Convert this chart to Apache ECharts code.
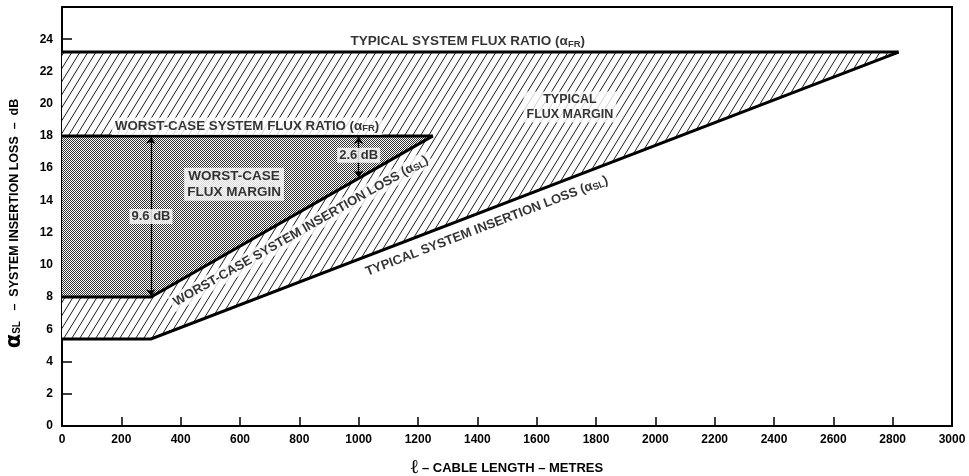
<!DOCTYPE html>
<html>
<head>
<meta charset="utf-8">
<script src="https://cdn.jsdelivr.net/npm/echarts@6/dist/echarts.min.js"></script>
<style>html,body{margin:0;padding:0;background:#fff}#c{width:969px;height:476px}</style>
</head>
<body>
<div id="c"></div>
<script>
// ---- data ----
const typicalFluxX = [0, 2820];
const typicalFluxY = [23.2, 23.2];
const typicalLossX = [0, 300, 2820];
const typicalLossY = [5.4, 5.4, 23.2];
const worstFluxX = [0, 1250];
const worstFluxY = [18, 18];
const worstLossX = [0, 300, 1250];
const worstLossY = [8.0, 8.0, 18.0];
const arrowX = [300, 1000];
const arrowFromY = [8.0, 15.37];
const arrowToY = [18, 18];
const arrowText = ['9.6 dB', '2.6 dB'];
const yTicks = [0, 2, 4, 6, 8, 10, 12, 14, 16, 18, 20, 22, 24];
const xTicks = [0, 200, 400, 600, 800, 1000, 1200, 1400, 1600, 1800, 2000, 2200, 2400, 2600, 2800, 3000];

// ---- helpers ----
const pts = (xs, ys) => xs.map((x, i) => [x, ys[i]]);
const FONT = '"Liberation Sans", Arial, Helvetica, sans-serif';

function hatchPattern() {
  const w = 8, h = 13;
  const c = document.createElement('canvas');
  c.width = w; c.height = h;
  const g = c.getContext('2d');
  g.fillStyle = '#fff'; g.fillRect(0, 0, w, h);
  g.strokeStyle = '#000'; g.lineWidth = 0.9;
  for (const dx of [-w, 0, w]) {
    g.beginPath(); g.moveTo(dx, h); g.lineTo(dx + w, 0); g.stroke();
  }
  return { image: c, repeat: 'repeat' };
}
function stipplePattern() {
  const c = document.createElement('canvas');
  c.width = 2; c.height = 2;
  const g = c.getContext('2d');
  g.fillStyle = '#fff'; g.fillRect(0, 0, 2, 2);
  g.fillStyle = '#333';
  g.fillRect(0, 0, 1, 1); g.fillRect(1, 1, 1, 1);
  return { image: c, repeat: 'repeat' };
}

// polygons built from the curves
const typicalRegion = pts(typicalFluxX, typicalFluxY).concat(pts(typicalLossX, typicalLossY).reverse());
const worstRegion = pts(worstFluxX, worstFluxY).concat(pts(worstLossX, worstLossY).reverse());

function polySeries(poly, fill, z) {
  return {
    type: 'custom', coordinateSystem: 'cartesian2d', z: z, silent: true, clip: true,
    data: [poly[0]],
    renderItem: (params, api) => ({
      type: 'polygon',
      shape: { points: poly.map(p => api.coord(p)) },
      style: { fill: fill, stroke: null }
    })
  };
}
function lineSeries(xs, ys) {
  return {
    type: 'line', data: pts(xs, ys), showSymbol: false, symbol: 'none', z: 5, silent: true,
    lineStyle: { color: '#000', width: 3, join: 'miter', cap: 'butt' }, animation: false
  };
}

const sub = { fontSize: 9.5, fontWeight: 'bold', fontFamily: FONT, color: '#000', padding: [5, 0, 0, 0] };
const baseLabel = { fontFamily: FONT, fontWeight: 'bold', color: '#000' };

// annotation anchors (placement of text in data space)
const annotations = [
  { at: [1368, 23.85], text: 'TYPICAL SYSTEM FLUX RATIO (α{s|FR})', bg: null, rot: 0, size: 13.5 },
  { at: [624, 18.6], text: 'WORST-CASE SYSTEM FLUX RATIO (α{s|FR})', bg: '#fff', rot: 0, size: 13.3 },
  { at: [1712, 19.8], text: 'TYPICAL\nFLUX MARGIN', bg: '#fff', rot: 0, size: 12.5 },
  { at: [580, 15.0], text: 'WORST-CASE\nFLUX MARGIN', bg: '#fff', rot: 0, size: 13.5 },
  { at: [805, 12.1], text: 'WORST-CASE SYSTEM INSERTION LOSS (α{s|SL})', bg: '#fff', rot: 29.7, size: 13 },
  { at: [1432, 12.4], text: 'TYPICAL SYSTEM INSERTION LOSS (α{s|SL})', bg: '#fff', rot: 21, size: 13 }
];

const chart = echarts.init(document.getElementById('c'), null, { renderer: 'canvas' });
chart.setOption({
  animation: false,
  backgroundColor: '#fff',
  grid: { left: 62, right: 17, top: 7, bottom: 50, containLabel: false, outerBoundsMode: 'none',
    show: true, borderColor: '#000', borderWidth: 2, backgroundColor: 'transparent' },
  xAxis: {
    type: 'value', min: 0, max: 3000, interval: 200,
    name: '{l|ℓ} – CABLE LENGTH – METRES', nameLocation: 'middle', nameGap: 32,
    nameTextStyle: { fontFamily: FONT, fontWeight: 'bold', fontSize: 13, color: '#000',
      rich: { l: { fontFamily: '"DejaVu Serif", serif', fontSize: 20, color: '#000' } } },
    axisLine: { lineStyle: { color: '#000', width: 2 } },
    axisTick: { inside: true, length: 9, lineStyle: { color: '#000', width: 1.5 } },
    axisLabel: { margin: 8, fontFamily: FONT, fontWeight: 'bold', fontSize: 12, color: '#000',
      showMaxLabel: true, showMinLabel: true, formatter: v => String(v) },
    splitLine: { show: false }
  },
  yAxis: {
    type: 'value', min: 0, max: 26, interval: 2,
    name: '{a|α}{s|SL}   –  SYSTEM INSERTION LOSS  –  dB', nameLocation: 'middle', nameGap: 37, nameRotate: 90,
    nameTextStyle: { fontFamily: FONT, fontWeight: 'bold', fontSize: 12.5, color: '#000', padding: [0, 14, 0, 0],
      rich: { a: { fontFamily: '"DejaVu Sans", sans-serif', fontSize: 21, color: '#000' }, s: { fontSize: 10, fontWeight: 'bold', fontFamily: FONT, color: '#000', padding: [6, 0, 0, 0] } } },
    axisLine: { lineStyle: { color: '#000', width: 2 } },
    axisTick: { inside: true, length: 10, lineStyle: { color: '#000', width: 1.5 } },
    axisLabel: { margin: 9, fontFamily: FONT, fontWeight: 'bold', fontSize: 12, color: '#000',
      formatter: v => (yTicks.indexOf(v) >= 0 ? String(v) : '') },
    splitLine: { show: false }
  },
  series: [
    polySeries(typicalRegion, hatchPattern(), 1),
    polySeries(worstRegion, stipplePattern(), 2),
    lineSeries(typicalFluxX, typicalFluxY),
    lineSeries(typicalLossX, typicalLossY),
    lineSeries(worstFluxX, worstFluxY),
    lineSeries(worstLossX, worstLossY),
    {
      type: 'lines', coordinateSystem: 'cartesian2d', z: 6, silent: true,
      symbol: ['arrow', 'arrow'], symbolSize: 7,
      lineStyle: { color: '#000', width: 1.3, opacity: 1, curveness: 0 },
      data: arrowX.map((x, i) => ({ coords: [[x, arrowFromY[i] + 0.05], [x, arrowToY[i] - 0.05]] }))
    },
    {
      type: 'scatter', z: 8, silent: true, symbolSize: 0,
      data: arrowX.map((x, i) => ({
        value: [x, i === 0 ? 13.0 : 16.8],
        label: { show: true, position: 'inside', formatter: arrowText[i], ...baseLabel, fontSize: 13,
          backgroundColor: '#fff', padding: [1, 2, 1, 2] }
      }))
    },
    {
      type: 'scatter', z: 8, silent: true, symbolSize: 0,
      data: annotations.map(a => ({
        value: a.at,
        label: { show: true, position: 'inside', formatter: a.text, rotate: a.rot, align: 'center', verticalAlign: 'middle',
          ...baseLabel, fontSize: a.size, lineHeight: a.size + 2, backgroundColor: a.bg || 'transparent', padding: [1, 3, 1, 3],
          rich: { s: sub } }
      }))
    }
  ]
});
</script>
</body>
</html>
